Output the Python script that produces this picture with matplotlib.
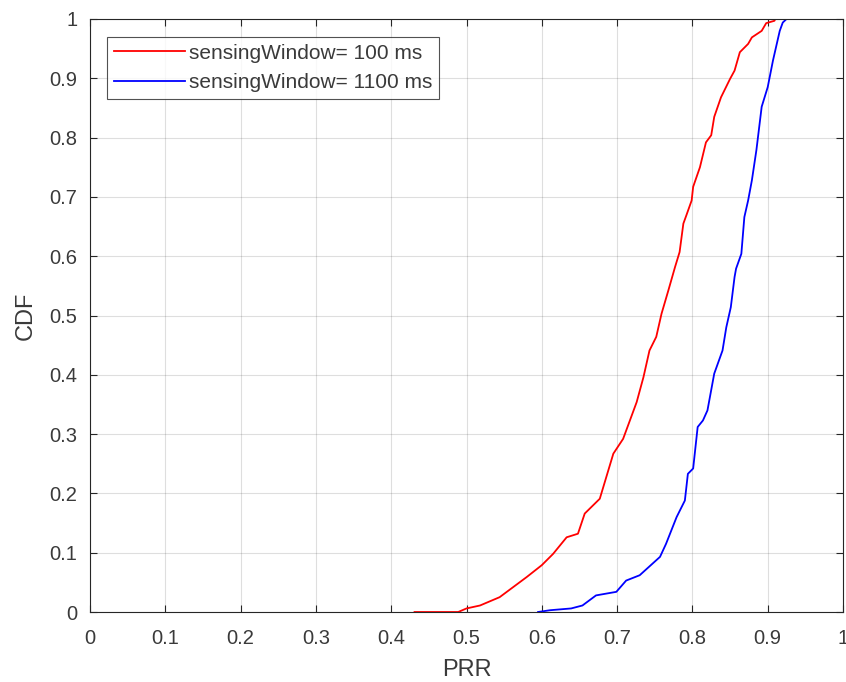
import matplotlib
matplotlib.use("Agg")
import matplotlib.pyplot as plt
import numpy as np

plt.rcParams['font.family'] = ['Liberation Sans', 'DejaVu Sans']

# Red: sensingWindow = 100 ms
prr_100 = [0.431, 0.489, 0.500, 0.518, 0.544, 0.562, 0.580, 0.600, 0.615, 0.633, 0.648,
           0.657, 0.677, 0.695, 0.708, 0.717, 0.726, 0.735, 0.743, 0.752, 0.759, 0.768,
           0.777, 0.783, 0.788, 0.792, 0.799, 0.801, 0.810, 0.818, 0.825, 0.829, 0.838,
           0.850, 0.856, 0.863, 0.874, 0.879, 0.892, 0.898, 0.909, 0.910]
cdf_100 = [0.000, 0.000, 0.006, 0.011, 0.025, 0.042, 0.059, 0.079, 0.098, 0.126, 0.132,
           0.166, 0.191, 0.267, 0.292, 0.323, 0.354, 0.396, 0.441, 0.464, 0.503, 0.542,
           0.582, 0.607, 0.655, 0.669, 0.694, 0.717, 0.750, 0.792, 0.804, 0.835, 0.868,
           0.899, 0.913, 0.944, 0.958, 0.969, 0.980, 0.993, 0.997, 1.000]

# Blue: sensingWindow = 1100 ms
prr_1100 = [0.595, 0.611, 0.639, 0.654, 0.672, 0.699, 0.712, 0.730, 0.757, 0.765, 0.779,
            0.790, 0.794, 0.801, 0.807, 0.814, 0.820, 0.829, 0.840, 0.845, 0.851, 0.856,
            0.858, 0.865, 0.869, 0.874, 0.879, 0.885, 0.892, 0.900, 0.907, 0.916, 0.920,
            0.925]
cdf_1100 = [0.000, 0.003, 0.006, 0.011, 0.028, 0.034, 0.053, 0.062, 0.093, 0.115, 0.160,
            0.188, 0.233, 0.242, 0.312, 0.323, 0.340, 0.402, 0.441, 0.480, 0.514, 0.565,
            0.579, 0.604, 0.666, 0.694, 0.728, 0.779, 0.852, 0.885, 0.930, 0.980, 0.994,
            1.000]

labels = ['sensingWindow= 100 ms', 'sensingWindow= 1100 ms']
xticks = [0, 0.1, 0.2, 0.3, 0.4, 0.5, 0.6, 0.7, 0.8, 0.9, 1]
yticks = [0, 0.1, 0.2, 0.3, 0.4, 0.5, 0.6, 0.7, 0.8, 0.9, 1]

W, H = 846, 682
fig = plt.figure(figsize=(W / 100, H / 100), dpi=100)
ax = fig.add_axes([90 / W, 1 - 612 / H, (843 - 90) / W, (612 - 19) / H])

ax.plot(prr_100, cdf_100, color='#ff0000', lw=1.3, label=labels[0])
ax.plot(prr_1100, cdf_1100, color='#0000ff', lw=1.3, label=labels[1])

ax.set_xlim(0, 1)
ax.set_ylim(0, 1)
ax.set_xticks(xticks)
ax.set_yticks(yticks)
ax.set_xticklabels([f"{t:g}" for t in xticks])
ax.set_yticklabels([f"{t:g}" for t in yticks])
ax.grid(True, color='#262626', alpha=0.15, lw=0.8)
ax.tick_params(direction='in', top=True, right=True, length=5, width=0.8,
               colors='#262626', labelcolor='#3a3a3a', labelsize=14.5)
ax.tick_params(axis='x', pad=12)
ax.tick_params(axis='y', pad=9)
for s in ax.spines.values():
    s.set_color('#262626')
    s.set_linewidth(0.8)

ax.set_xlabel('PRR', fontsize=17, color='#3a3a3a', labelpad=8)
ax.set_ylabel('CDF', fontsize=17, color='#3a3a3a', labelpad=9)

leg = ax.legend(loc='upper left', bbox_to_anchor=(17 / 753, 1 - 18 / 593),
                fontsize=15, frameon=True, fancybox=False, edgecolor='#262626',
                handlelength=3.4, handletextpad=0.2, borderpad=0.32, labelspacing=0.5,
                borderaxespad=0)
for t in leg.get_texts():
    t.set_color('#3a3a3a')
leg.get_frame().set_linewidth(0.8)

fig.savefig('out.png', dpi=100)
